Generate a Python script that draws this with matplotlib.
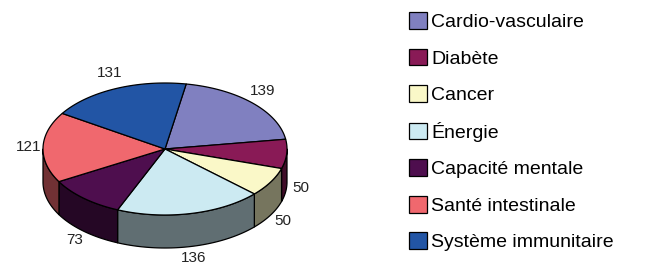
import numpy as np
import matplotlib
matplotlib.use("Agg")
import matplotlib.pyplot as plt
from matplotlib.patches import Polygon, Patch

plt.rcParams['font.family'] = ['Liberation Sans', 'DejaVu Sans']

categories = ["Cardio-vasculaire", "Diabète", "Cancer", "Énergie",
              "Capacité mentale", "Santé intestinale", "Système immunitaire"]
values = [139, 50, 50, 136, 73, 121, 131]
labels = ["139", "50", "50", "136", "73", "121", "131"]
colors = ["#8080C0", "#891A56", "#FAF8C8", "#CCEAF2", "#4E0E4E", "#F0686E", "#2255A5"]

W, H = 646, 268
fig = plt.figure(figsize=(W / 100, H / 100), dpi=100)
ax = fig.add_axes([0, 0, 1, 1])
ax.set_xlim(0, W)
ax.set_ylim(H, 0)
ax.axis("off")

cx, cy, rx, ry, depth = 165, 149, 122, 66, 33
start = 80.0

def pt(t, dz=0.0):
    r = np.radians(t)
    return cx + rx * np.cos(r), cy - ry * np.sin(r) + dz

def darker(c, f=0.47):
    rgb = np.array(matplotlib.colors.to_rgb(c))
    return tuple(rgb * f)

total = float(sum(values))
angles = []
a = start
for v in values:
    sweep = v / total * 360.0
    angles.append((a, a - sweep))
    a -= sweep

# side walls (front half only)
for (a0, a1), col in zip(angles, colors):
    hi = min(a0, 0.0)
    lo = max(a1, -180.0)
    if hi <= lo:
        continue
    ts = np.linspace(hi, lo, 60)
    top = [pt(t) for t in ts]
    bot = [pt(t, depth) for t in ts[::-1]]
    ax.add_patch(Polygon(top + bot, closed=True, facecolor=darker(col),
                         edgecolor="black", linewidth=0.9, joinstyle="round"))

# top faces
for (a0, a1), col in zip(angles, colors):
    ts = np.linspace(a0, a1, 80)
    verts = [(cx, cy)] + [pt(t) for t in ts]
    ax.add_patch(Polygon(verts, closed=True, facecolor=col,
                         edgecolor="black", linewidth=0.9, joinstyle="round"))

# value labels
for (a0, a1), lab in zip(angles, labels):
    m = np.radians((a0 + a1) / 2)
    x = cx + 1.12 * rx * np.cos(m)
    y = cy - 1.25 * ry * np.sin(m)
    if np.sin(m) < 0:
        y = cy - 1.18 * ry * np.sin(m) + depth
    ax.text(x, y, lab, ha="center", va="center", fontsize=11, color="#222222")

handles = [Patch(facecolor=c, edgecolor="black", linewidth=0.9) for c in colors]
fig.legend(handles, categories, loc="upper left", bbox_to_anchor=(409 / W, 1 - 12 / H),
           frameon=False, fontsize=14, handlelength=0.95, handleheight=0.95,
           handletextpad=0.2, labelspacing=0.9, borderpad=0, borderaxespad=0)

fig.savefig("out.png", dpi=100)
